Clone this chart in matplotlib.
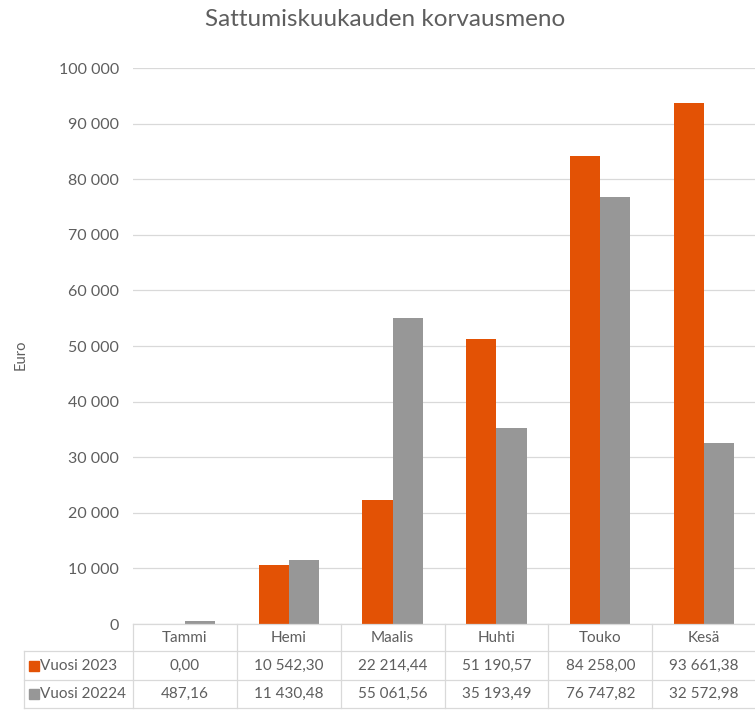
import matplotlib
matplotlib.use("Agg")
import matplotlib.pyplot as plt
from matplotlib.lines import Line2D
from matplotlib.patches import Rectangle
import numpy as np
from matplotlib.ticker import FuncFormatter

categories = ["Tammi", "Hemi", "Maalis", "Huhti", "Touko", "Kesä"]
series_names = ["Vuosi 2023", "Vuosi 20224"]
vals_2023 = [0.00, 10542.30, 22214.44, 51190.57, 84258.00, 93661.38]
vals_2024 = [487.16, 11430.48, 55061.56, 35193.49, 76747.82, 32572.98]
colors = ["#E35205", "#979797"]
yticks = list(range(0, 100001, 10000))

plt.rcParams['font.family'] = ['Lato', 'DejaVu Sans']
txt = "#5E5E5E"
grid_c = "#D9D9D9"

fig = plt.figure(figsize=(7.55, 7.10), dpi=100)
W, H = 755, 710
L, R, B, T = 133, 756, 624, 68
ax = fig.add_axes([L / W, 1 - B / H, (R - L) / W, (B - T) / H])

x = np.arange(len(categories))
bw = 0.29
ax.bar(x - bw / 2, vals_2023, bw, color=colors[0], zorder=3)
ax.bar(x + bw / 2, vals_2024, bw, color=colors[1], zorder=3)

ax.set_xlim(-0.5, len(categories) - 0.5)
ax.set_ylim(0, 100000)
ax.set_yticks(yticks)
ax.yaxis.set_major_formatter(FuncFormatter(lambda v, p: f"{int(v):,}".replace(",", " ")))
ax.tick_params(axis='y', length=0, pad=10, labelsize=11.5, labelcolor=txt)
ax.set_xticks([])
ax.grid(axis='y', color=grid_c, linewidth=0.9, zorder=0)
for s in ax.spines.values():
    s.set_visible(False)

ax.set_ylabel("Euro", color=txt, fontsize=10.5)
ax.yaxis.set_label_coords(-(L - 28) / (R - L), 0.485)

fig.text(385 / W, 1 - 20 / H, "Sattumiskuukauden korvausmeno", ha='center', va='center',
         fontsize=17.5, color=txt)

def fmt(v):
    s = f"{v:,.2f}"
    return s.replace(",", " ").replace(".", ",")

def fx(px):
    return px / W

def fy(py):
    return 1 - py / H

def hline(y, x0, x1):
    fig.add_artist(Line2D([fx(x0), fx(x1)], [fy(y), fy(y)], color=grid_c, lw=0.9,
                          transform=fig.transFigure))

def vline(xp, y0, y1):
    fig.add_artist(Line2D([fx(xp), fx(xp)], [fy(y0), fy(y1)], color=grid_c, lw=0.9,
                          transform=fig.transFigure))

rows_y = [624, 651, 680, 708]
tab_left = 24
col_w = (R - L) / len(categories)
hline(rows_y[0], L, W)
for yy in rows_y[1:]:
    hline(yy, tab_left, W)
vline(tab_left, rows_y[1], rows_y[3])
for i in range(len(categories)):
    vline(L + i * col_w, rows_y[0], rows_y[3])

fs = 11
for i, cat in enumerate(categories):
    cx = L + (i + 0.5) * col_w
    fig.text(fx(cx), fy((rows_y[0] + rows_y[1]) / 2), cat, ha='center', va='center',
             fontsize=fs, color=txt)
series_vals = [vals_2023, vals_2024]
for r, (name, vals, col) in enumerate(zip(series_names, series_vals, colors)):
    cy = (rows_y[r + 1] + rows_y[r + 2]) / 2
    fig.add_artist(Rectangle((fx(29), fy(cy + 5)), 10 / W, 10 / H, color=col,
                             transform=fig.transFigure))
    fig.text(fx(40), fy(cy), name, ha='left', va='center', fontsize=fs, color=txt)
    for i, v in enumerate(vals):
        cx = L + (i + 0.5) * col_w
        fig.text(fx(cx), fy(cy), fmt(v), ha='center', va='center', fontsize=fs, color=txt)

fig.savefig("out.png", dpi=100)
